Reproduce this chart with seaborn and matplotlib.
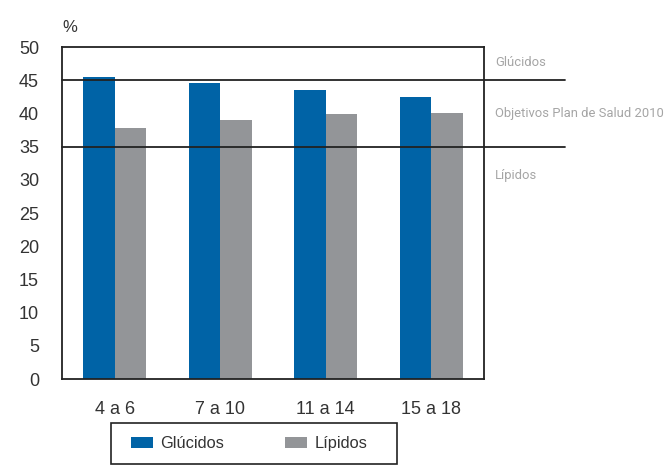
import matplotlib
matplotlib.use("Agg")
import matplotlib.pyplot as plt
import seaborn as sns
import pandas as pd
from matplotlib.patches import Patch, Rectangle

# Age groups and nutrient shares (% of energy intake)
edades = ["4 a 6", "7 a 10", "11 a 14", "15 a 18"]
glucidos = [45.5, 44.6, 43.5, 42.5]
lipidos = [37.8, 39.0, 39.9, 40.0]
series = ["Glúcidos", "Lípidos"]
objetivos = [45, 35]  # Plan de Salud 2010 targets
yticks = list(range(0, 55, 5))

colores = ["#0063a6", "#939598"]

df = pd.DataFrame({
    "edad": edades * 2,
    "valor": glucidos + lipidos,
    "serie": [series[0]] * len(edades) + [series[1]] * len(edades),
})

sns.set_style("white")
plt.rcParams["font.family"] = ["Liberation Sans", "DejaVu Sans"]

W, H = 669, 471
fig = plt.figure(figsize=(W / 100, H / 100), dpi=100)
ax = fig.add_axes([62 / W, 1 - 379 / H, (484 - 62) / W, (379 - 47) / H])

sns.barplot(data=df, x="edad", y="valor", hue="serie", palette=colores,
            width=0.6, saturation=1, ax=ax, legend=False, linewidth=0)

ax.set_ylim(0, 50)
ax.set_xlim(-0.5, len(edades) - 0.5)
ax.set_yticks(yticks)
ax.set_xlabel("")
ax.set_ylabel("")
ax.tick_params(axis="both", direction="out", width=1.2, colors="#222222",
               labelcolor="#333333", labelsize=13)
ax.tick_params(axis="x", length=6, pad=10)
ax.tick_params(axis="y", length=4.5, pad=12)
for s in ax.spines.values():
    s.set_visible(True)
    s.set_color("#222222")
    s.set_linewidth(1.3)

# Target lines extending into the right margin
for v in objetivos:
    ax.plot([-0.5, 4.27], [v, v], color="#222222", lw=1.3, clip_on=False, zorder=5)

txt_kw = dict(transform=fig.transFigure, color="#a5a5a5", fontsize=9.4,
              family=["Roboto", "DejaVu Sans"], va="center", ha="left")
fig.text(495 / W, 1 - 62 / H, "Glúcidos", **txt_kw)
fig.text(495 / W, 1 - 113 / H, "Objetivos Plan de Salud 2010", **txt_kw)
fig.text(495 / W, 1 - 176 / H, "Lípidos", **txt_kw)

fig.text(62 / W, 1 - 27 / H, "%", fontsize=12, color="#333333", va="center", ha="left")

# Legend below the plot, inside a plain rectangular frame
handles = [Patch(facecolor=c, edgecolor="none") for c in colores]
fig.legend(handles, series, ncol=2, loc="center left", bbox_to_anchor=(131 / W, 1 - 443.5 / H),
           frameon=False, fontsize=11.8, handlelength=1.37, handleheight=0.7,
           columnspacing=3.7, borderpad=0, borderaxespad=0, handletextpad=0.42,
           labelcolor="#333333")
fig.add_artist(Rectangle((111 / W, 1 - 464 / H), (397 - 111) / W, (464 - 423) / H,
                         transform=fig.transFigure, fill=False, edgecolor="#222222", lw=1.2))

fig.savefig("out.png", dpi=100)
